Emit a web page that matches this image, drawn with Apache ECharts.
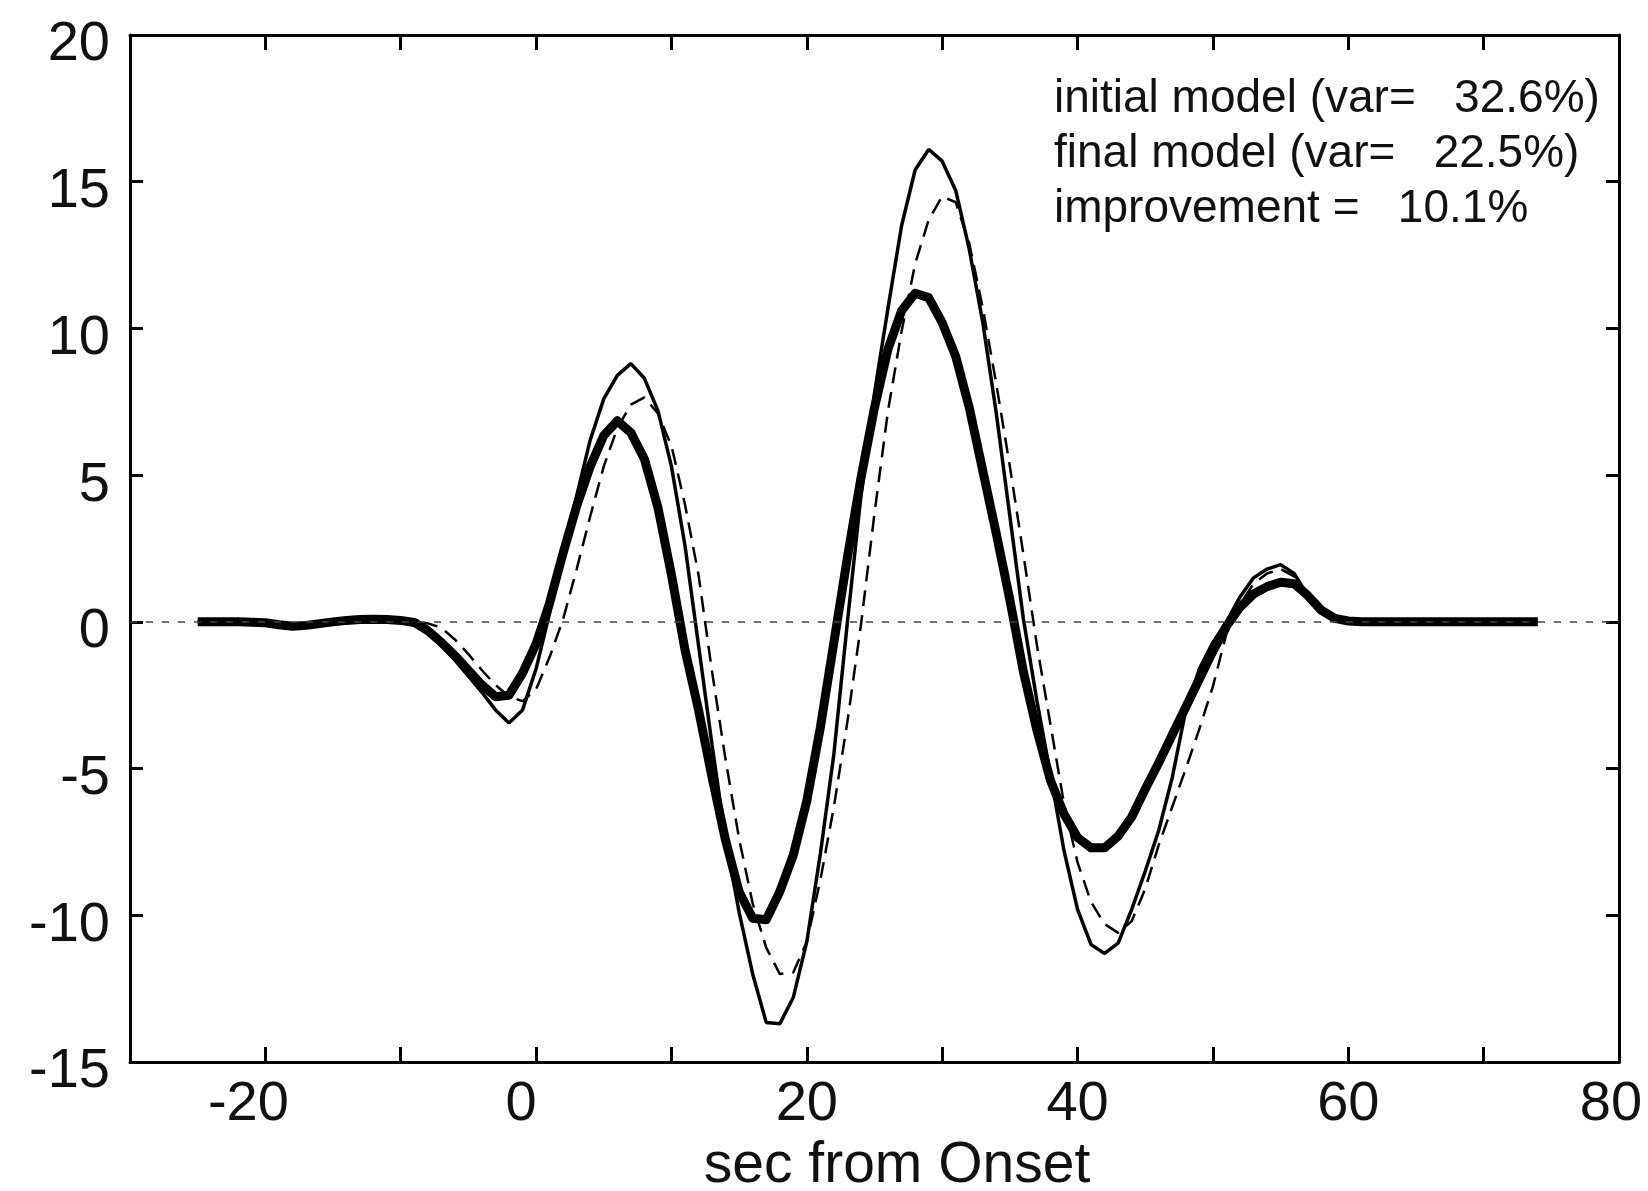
<!DOCTYPE html>
<html>
<head>
<meta charset="utf-8">
<script src="https://cdn.jsdelivr.net/npm/echarts@6/dist/echarts.min.js"></script>
<style>
html,body{margin:0;padding:0;background:#fff;}
#chart{width:1648px;height:1191px;}
</style>
</head>
<body>
<div id="chart"></div>
<script>
// time axis (sec from onset)
const times = [-25,-24,-23,-22,-21,-20,-19,-18,-17,-16,-15,-14,-13,-12,-11,-10,-9,-8,-7,-6,-5,-4,-3,-2,-1,0,1,2,3,4,5,6,7,8,9,10,11,12,13,14,15,16,17,18,19,20,21,22,23,24,25,26,27,28,29,30,31,32,33,34,35,36,37,38,39,40,41,42,43,44,45,46,47,48,49,50,51,52,53,54,55,56,57,58,59,60,61,62,63,64,65,66,67,68,69,70,71,72,73,74];

// observed (thin solid)
const observed = [0,0,0,0,-0.01,-0.03,-0.10,-0.15,-0.12,-0.06,0,0.05,0.08,0.09,0.08,0.05,-0.02,
  -0.35,-0.80,-1.30,-1.85,-2.40,-3.00,-3.45,-3.00,-1.60,0.30,2.30,4.30,6.20,7.60,8.40,8.80,8.30,7.20,5.30,2.60,
  -0.80,-4.20,-7.40,-9.90,-12.00,-13.65,-13.70,-12.80,-10.90,-7.90,-4.50,0.00,4.30,7.80,10.70,13.50,15.40,16.10,15.70,14.70,
  12.70,10.20,7.10,3.60,0.10,-2.70,-5.20,-7.80,-9.80,-11.00,-11.30,-10.95,-9.80,-8.50,-7.10,-5.30,-3.00,-1.60,-0.70,0.00,
  0.85,1.50,1.80,1.95,1.65,0.90,0.40,0.12,0.03,0,0,0,0,0,0,0,0,0,0,0,0,0,0];

// initial model (dashed)
const initialModel = [0,0,0,0,-0.01,-0.03,-0.10,-0.15,-0.12,-0.06,0,0.05,0.08,0.09,0.08,0.05,-0.02,
  -0.05,-0.20,-0.60,-1.10,-1.65,-2.15,-2.55,-2.70,-2.30,-1.20,0.10,1.80,3.60,5.30,6.60,7.40,7.65,7.10,6.00,4.00,
  1.60,-1.70,-4.70,-7.40,-9.60,-11.10,-12.00,-11.95,-10.90,-8.80,-6.30,-3.40,-0.10,3.70,7.20,9.90,12.20,13.70,14.50,14.30,
  12.90,10.70,8.10,5.30,2.30,-0.80,-3.50,-6.20,-8.20,-9.55,-10.30,-10.60,-10.20,-9.10,-7.60,-6.30,-5.00,-3.65,-2.20,-0.40,
  0.60,1.30,1.65,1.80,1.55,0.85,0.38,0.12,0.03,0,0,0,0,0,0,0,0,0,0,0,0,0,0];

// final model (thick solid)
const finalModel = [0,0,0,0,-0.01,-0.03,-0.10,-0.15,-0.12,-0.06,0,0.05,0.08,0.09,0.08,0.05,-0.02,
  -0.30,-0.70,-1.15,-1.65,-2.15,-2.55,-2.50,-1.75,-0.75,0.65,2.35,3.95,5.30,6.35,6.85,6.45,5.55,3.90,1.60,-0.95,
  -3.00,-5.30,-7.45,-9.20,-10.10,-10.15,-9.20,-7.95,-6.10,-3.60,-0.70,2.20,4.90,7.30,9.30,10.60,11.20,11.05,10.20,9.05,
  7.30,5.15,3.00,0.75,-1.70,-3.70,-5.40,-6.55,-7.35,-7.70,-7.70,-7.30,-6.65,-5.70,-4.80,-3.85,-2.90,-1.95,-1.00,-0.15,
  0.50,0.95,1.20,1.35,1.30,0.90,0.40,0.12,0.03,0,0,0,0,0,0,0,0,0,0,0,0,0,0];

const xLabelValues = [-20, 0, 20, 40, 60, 80];
const annotationLines = [
  'initial model (var=   32.6%)',
  'final model (var=   22.5%)',
  'improvement =   10.1%'
];
const xAxisTitle = 'sec from Onset';

const pair = arr => times.map((t, i) => [t, arr[i]]);
const FONT = 'Liberation Sans, Arial, Helvetica, sans-serif';

// small per-label horizontal nudges (px, negative = left) to mimic the original layout
const xLabelShift = {'-20': -17, '0': -15, '80': -8};

const chart = echarts.init(document.getElementById('chart'), null, {renderer: 'canvas'});
const axisLineStyle = {show: true, onZero: false, lineStyle: {color: '#000', width: 3}};
const tickStyle = {show: true, inside: true, lineStyle: {color: '#000', width: 3}};

const labelRich = {};
Object.keys(xLabelShift).forEach((k, i) => {
  labelRich['s' + i] = {padding: [0, -2 * xLabelShift[k], 0, 0], fontSize: 56, fontFamily: FONT, color: '#111'};
});

chart.setOption({
  backgroundColor: '#fff',
  animation: false,
  grid: {left: 130, right: 29, top: 35, bottom: 129, containLabel: false, outerBoundsMode: 'none'},
  xAxis: [
    {
      type: 'value', min: -30, max: 80, interval: 10, position: 'bottom',
      axisLine: axisLineStyle,
      axisTick: Object.assign({}, tickStyle, {length: 15}),
      splitLine: {show: false},
      axisLabel: {
        show: true, margin: 15, color: '#111', fontSize: 56, fontFamily: FONT,
        showMinLabel: true, showMaxLabel: true, hideOverlap: false,
        rich: labelRich,
        formatter: v => {
          if (xLabelValues.indexOf(v) < 0) return '';
          const keys = Object.keys(xLabelShift);
          const idx = keys.indexOf(String(v));
          return idx >= 0 ? '{s' + idx + '|' + v + '}' : String(v);
        }
      },
      name: xAxisTitle, nameLocation: 'middle', nameGap: 65,
      nameTextStyle: {color: '#111', fontSize: 57, fontFamily: FONT, padding: [0, 0, 0, 45]}
    },
    {
      type: 'value', min: -30, max: 80, interval: 10, position: 'top',
      axisLine: axisLineStyle,
      axisTick: Object.assign({}, tickStyle, {length: 15}),
      splitLine: {show: false}, axisLabel: {show: false}
    }
  ],
  yAxis: [
    {
      type: 'value', min: -15, max: 20, interval: 5, position: 'left',
      axisLine: axisLineStyle,
      axisTick: Object.assign({}, tickStyle, {length: 13}),
      splitLine: {show: false},
      axisLabel: {show: true, margin: 20, color: '#111', fontSize: 56, fontFamily: FONT,
                  verticalAlign: 'top', lineHeight: 20}
    },
    {
      type: 'value', min: -15, max: 20, interval: 5, position: 'right',
      axisLine: axisLineStyle,
      axisTick: Object.assign({}, tickStyle, {length: 13}),
      splitLine: {show: false}, axisLabel: {show: false}
    }
  ],
  series: [
    {
      name: 'initial model', type: 'line', data: pair(initialModel),
      showSymbol: false, symbol: 'none', z: 2,
      lineStyle: {color: '#000', width: 2.5, type: [16, 9]},
      markLine: {
        silent: true, symbol: 'none', label: {show: false},
        lineStyle: {color: '#444', width: 1.5, type: [7, 9]},
        data: [{yAxis: 0}]
      }
    },
    {
      name: 'observed', type: 'line', data: pair(observed),
      showSymbol: false, symbol: 'none', z: 3,
      lineStyle: {color: '#000', width: 3.5}
    },
    {
      name: 'final model', type: 'line', data: pair(finalModel),
      showSymbol: false, symbol: 'none', z: 4,
      lineStyle: {color: '#000', width: 9, join: 'round'}
    }
  ],
  graphic: annotationLines.map((txt, i) => ({
    type: 'text', left: 1054, top: 76 + i * 55,
    style: {text: txt, fill: '#111', fontSize: 46, fontFamily: FONT}
  }))
});
</script>
</body>
</html>
